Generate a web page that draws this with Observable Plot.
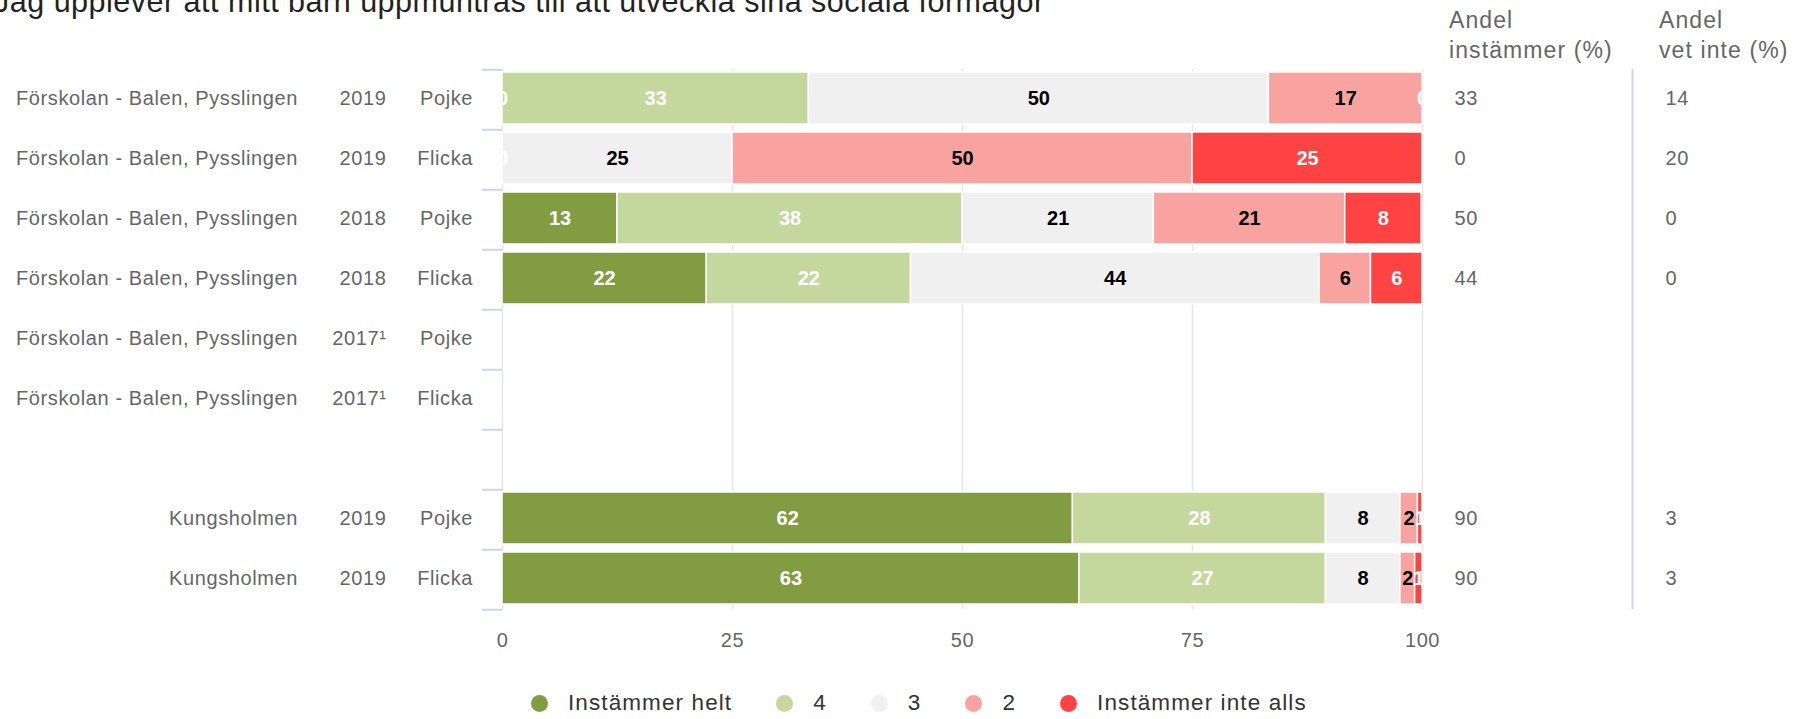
<!DOCTYPE html>
<html><head><meta charset="utf-8">
<script src="https://cdn.jsdelivr.net/npm/d3@7"></script>
<script src="https://cdn.jsdelivr.net/npm/@observablehq/plot@0.6"></script>
<style>
html,body{margin:0;padding:0;background:#fff;overflow:hidden;}
body{width:1796px;height:719px;position:relative;font-family:"Liberation Sans",Arial,sans-serif;}
#title{position:absolute;left:-6px;top:-14px;font-size:30.5px;line-height:30px;color:#222;white-space:nowrap;letter-spacing:0.5px}
.hdr{position:absolute;top:5px;font-size:23px;line-height:30px;color:#666;letter-spacing:1.1px;white-space:nowrap}
#legend{position:absolute;left:531px;top:688px;display:flex;align-items:center;font-size:22.5px;line-height:30px;color:#333;letter-spacing:1.1px;white-space:nowrap}
.item{display:flex;align-items:center;margin-right:44px}
.dot{width:17px;height:17px;border-radius:50%;margin-right:20px}
#chart{position:absolute;left:0;top:0}
.sp text{letter-spacing:0.6px}
</style>
</head>
<body>
<div id="title">Jag upplever att mitt barn uppmuntras till att utveckla sina sociala förmågor</div>
<div class="hdr" style="left:1449px">Andel<br>instämmer (%)</div>
<div class="hdr" style="left:1659px">Andel<br>vet inte (%)</div>
<div id="chart"></div>
<div id="legend"></div>
<script>
// ---- data ----
const units = ["Förskolan - Balen, Pysslingen","Förskolan - Balen, Pysslingen","Förskolan - Balen, Pysslingen","Förskolan - Balen, Pysslingen","Förskolan - Balen, Pysslingen","Förskolan - Balen, Pysslingen","","Kungsholmen","Kungsholmen"];
const years = ["2019","2019","2018","2018","2017¹","2017¹","","2019","2019"];
const genders = ["Pojke","Flicka","Pojke","Flicka","Pojke","Flicka","","Pojke","Flicka"];
const series = ["Instämmer helt","4","3","2","Instämmer inte alls"];
const colors = ["#829c42","#c4d79c","#f0f0f0","#f9a3a1","#ff4343"];
const labelColors = ["#fff","#fff","#000","#000","#fff"];
const helt = [0, 0, 12.5, 22.2, null, null, null, 62.0, 62.7];
const fyra = [33.3, 0, 37.5, 22.2, null, null, null, 27.5, 26.8];
const tre  = [50, 25, 20.8, 44.4, null, null, null, 8.1, 8.1];
const tva  = [16.7, 50, 20.8, 5.6, null, null, null, 1.9, 1.6];
const inte = [0, 25, 8.3, 5.6, null, null, null, 0.5, 0.8];
const andelInstammer = [33, 0, 50, 44, null, null, null, 90, 90];
const andelVetInte = [14, 20, 0, 0, null, null, null, 3, 3];
const xTicks = [0, 25, 50, 75, 100];

// ---- build tables ----
const keys = units.map((_, i) => "r" + i);
const seriesValues = [helt, fyra, tre, tva, inte];
const rows = keys.map((k, i) => ({key: k, unit: units[i], year: years[i], gender: genders[i], andel: andelInstammer[i], vetinte: andelVetInte[i]}));
const segs = [];
keys.forEach((k, i) => {
  let acc = 0;
  seriesValues.forEach((vals, si) => {
    const v = vals[i];
    if (v == null) return;
    segs.push({key: k, series: series[si], si, value: v, x1: acc, x2: acc + v});
    acc += v;
  });
});

const W = 1796, H = 670, mL = 502, mR = 374, mT = 69, mB = 61;
const plotW = W - mL - mR;
const step = (H - mT - mB) / keys.length;
const padIn = 8 / 60, padOut = 4 / 60, align = 0.34;
const bandStartOff = (step * 9 - step * (keys.length - padIn)) * align;
const centerOff = bandStartOff + step * (1 - padIn) / 2;

const labelMarks = ["#fff", "#000"].map(c => Plot.text(segs.filter(d => labelColors[d.si] === c), {
  x: d => (d.x1 + d.x2) / 2, y: "key", text: d => String(Math.round(d.value)),
  fill: c, fontWeight: "bold", fontSize: 20, clip: true
}));

const chart = Plot.plot({
  width: W, height: H, marginLeft: mL, marginRight: mR, marginTop: mT, marginBottom: mB,
  style: {fontFamily: "'Liberation Sans', Arial, sans-serif", fontSize: "20px", color: "#666", background: "transparent", overflow: "visible"},
  x: {domain: [0, 100], axis: null},
  y: {domain: keys, paddingInner: padIn, paddingOuter: padOut, align: align, axis: null},
  color: {domain: series, range: colors},
  marks: [
    Plot.ruleX(xTicks, {stroke: "#e6e6e6", strokeWidth: 1.6}),
    Plot.ruleY(keys, {y: d => d, insetLeft: -20, insetRight: plotW, dy: -centerOff, stroke: "#ccd6eb", strokeWidth: 2}),
    Plot.ruleY(keys.slice(-1), {y: d => d, insetLeft: -20, insetRight: plotW, dy: step - centerOff, stroke: "#ccd6eb", strokeWidth: 2}),
    Plot.barX(segs, {x1: "x1", x2: "x2", y: "key", fill: "series", stroke: "#fff", strokeWidth: 1.5}),
    ...labelMarks,
    Plot.axisX(xTicks, {tickSize: 0, tickPadding: 23, fontSize: 20, className: "sp"}),
    Plot.text(rows, {y: "key", text: "unit", frameAnchor: "left", dx: -204.5, textAnchor: "end", fill: "#666", fontSize: 20, className: "sp"}),
    Plot.text(rows, {y: "key", text: "year", frameAnchor: "left", dx: -116, textAnchor: "end", fill: "#666", fontSize: 20, className: "sp"}),
    Plot.text(rows, {y: "key", text: "gender", frameAnchor: "left", dx: -29.5, textAnchor: "end", fill: "#666", fontSize: 20, className: "sp"}),
    Plot.text(rows.filter(d => d.andel != null), {y: "key", text: d => String(d.andel), frameAnchor: "right", dx: 32, textAnchor: "start", fill: "#666", fontSize: 20, className: "sp"}),
    Plot.text(rows.filter(d => d.vetinte != null), {y: "key", text: d => String(d.vetinte), frameAnchor: "right", dx: 243, textAnchor: "start", fill: "#666", fontSize: 20, className: "sp"}),
    Plot.ruleX([100], {dx: 210, stroke: "#ccd6eb", strokeWidth: 2})
  ]
});
document.getElementById("chart").appendChild(chart);

const legend = document.getElementById("legend");
series.forEach((s, i) => {
  const item = document.createElement("div");
  item.className = "item";
  const dot = document.createElement("span");
  dot.className = "dot";
  dot.style.background = colors[i];
  const t = document.createElement("span");
  t.textContent = s;
  item.appendChild(dot); item.appendChild(t);
  legend.appendChild(item);
});
</script>
</body></html>
